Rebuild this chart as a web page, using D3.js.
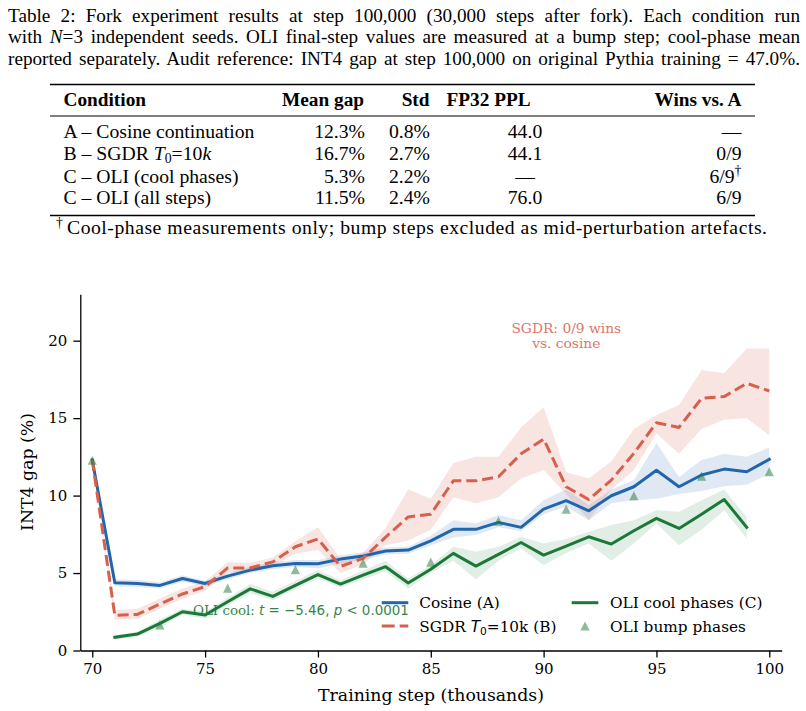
<!DOCTYPE html>
<html><head><meta charset="utf-8">
<script src="https://cdn.jsdelivr.net/npm/d3@7"></script>
<style>body{margin:0;background:#fff} svg{display:block}</style>
</head><body>
<script>
// ---------------- data ----------------
const captionLines = [
  "Table 2: Fork experiment results at step 100,000 (30,000 steps after fork). Each condition run",
  "with *N*=3 independent seeds. OLI final-step values are measured at a bump step; cool-phase mean",
  "reported separately. Audit reference: INT4 gap at step 100,000 on original Pythia training = 47.0%."
];
const tableHeaders = ["Condition", "Mean gap", "Std", "FP32 PPL", "Wins vs. A"];
const conditions = ["A – Cosine continuation", "B – SGDR *T*_0_=10*k*", "C – OLI (cool phases)", "C – OLI (all steps)"];
const meanGap = ["12.3%", "16.7%", "5.3%", "11.5%"];
const stdVals = ["0.8%", "2.7%", "2.2%", "2.4%"];
const ppl = ["44.0", "44.1", "—", "76.0"];
const wins = ["—", "0/9", "6/9^†^", "6/9"];
const footnote = "Cool-phase measurements only; bump steps excluded as mid-perturbation artefacts.";

const steps = [70,71,72,73,74,75,76,77,78,79,80,81,82,83,84,85,86,87,88,89,90,91,92,93,94,95,96,97,98,99,100];
const cosineMean = [12.3,4.37,4.33,4.2,4.65,4.33,4.8,5.19,5.47,5.62,5.6,5.9,6.1,6.42,6.48,7.08,7.82,7.82,8.27,7.95,9.13,9.67,9.02,9.99,10.57,11.63,10.57,11.33,11.71,11.54,12.34];
const cosineLo   = [12.3,4.15,4.1,4.0,4.45,4.15,4.6,5.0,5.25,5.4,5.3,5.6,5.85,6.2,6.25,6.8,7.3,7.45,7.95,7.7,8.8,9.3,8.4,9.5,9.7,9.8,10.1,10.3,10.6,10.7,11.4];
const cosineHi   = [12.3,4.6,4.55,4.4,4.85,4.5,5.0,5.4,5.7,5.85,5.85,6.15,6.35,6.65,6.7,7.4,8.4,8.2,8.75,8.4,9.7,10.4,9.4,10.4,11.0,13.4,11.2,12.3,12.7,12.5,13.1];

const sgdrMean = [12.3,2.26,2.33,3.0,3.65,4.12,5.33,5.33,5.72,6.7,7.2,5.43,5.95,7.32,8.62,8.8,10.95,10.95,11.22,12.7,13.65,10.57,9.75,11.0,12.73,14.7,14.4,16.28,16.39,17.25,16.75];
const sgdrLo   = [12.3,2.0,2.05,2.7,3.35,3.85,5.05,5.05,5.45,6.25,6.5,5.0,5.55,6.8,7.1,7.8,9.9,9.5,9.9,11.1,11.65,10.1,8.4,10.4,11.65,14.0,12.7,14.3,14.9,15.0,13.9];
const sgdrHi   = [12.3,2.6,2.7,3.35,4.0,4.45,5.7,5.65,6.0,7.05,7.95,5.9,6.3,7.9,10.4,9.8,12.1,12.5,12.5,14.4,15.7,11.5,11.1,12.2,14.3,15.2,15.85,18.1,17.9,19.5,19.5];

const oliSteps = [71,72,73,74,75,76,77,78,79,80,81,82,83,84,85,86,87,88,89,90,91,92,93,94,95,96,97,98,99];
const oliMean = [0.85,1.06,1.75,2.5,2.29,3.15,3.98,3.49,4.2,4.9,4.29,4.87,5.41,4.36,5.24,6.27,5.45,6.2,6.97,6.16,6.74,7.34,6.87,7.73,8.53,7.88,8.8,9.75,7.95];
const oliLo   = [0.7,0.9,1.5,2.3,2.05,2.9,3.7,3.25,3.95,4.65,4.05,4.6,5.1,4.0,5.0,5.8,4.6,5.8,6.6,5.5,6.3,6.9,5.8,6.9,8.2,6.8,7.8,9.06,7.24];
const oliHi   = [1.0,1.2,2.0,2.7,2.5,3.4,4.3,3.8,4.5,5.2,4.55,5.15,5.8,4.65,5.5,6.7,6.37,6.7,7.34,6.9,7.2,7.67,8.1,8.4,9.06,8.96,9.7,10.4,8.6];

const bumpSteps = [70,73,76,79,82,85,88,91,94,97,100];
const bumpVals  = [12.28,1.65,4.02,5.22,5.64,5.7,8.35,9.13,9.99,11.26,11.54];

const xTicks = [70,75,80,85,90,95,100];
const yTicks = [0,5,10,15,20];

const legendLabels = ["Cosine (A)", "SGDR *T*_0_=10k (B)", "OLI cool phases (C)", "OLI bump phases"];
const sgdrNote = ["SGDR: 0/9 wins", "vs. cosine"];

// ---------------- styles ----------------
const C_BLUE = "#2166ac", C_RED = "#d6604d", C_GREEN = "#1b7837";
const SERIF_T = "'Liberation Serif','Times New Roman',serif";
const SERIF_D = "'DejaVu Serif',serif";
const SANS_D = "'DejaVu Sans',sans-serif";

const svg = d3.select("body").append("svg").attr("width", 806).attr("height", 711);

// rich text helper: *italic*, _sub_, ^sup^
function rich(textSel, str, o) {
  o = Object.assign({subSize: "0.7em", subDy: 0.2, supSize: "0.7em", supDy: 0.38, mathFamily: null, fs: 18}, o || {});
  const parts = str.split(/(\*[^*]+\*|_[^_]+_|\^[^^]+\^)/).filter(s => s.length);
  let shift = 0;
  parts.forEach(p => {
    const t = textSel.append("tspan");
    let txt = p, dy = 0;
    if (p[0] === "*") { txt = p.slice(1, -1); t.attr("font-style", "italic"); if (o.mathFamily) t.attr("font-family", o.mathFamily); }
    else if (p[0] === "_") { txt = p.slice(1, -1); t.attr("font-size", o.subSize); dy = o.subDy * o.fs; if (o.mathFamily) t.attr("font-family", o.mathFamily); }
    else if (p[0] === "^") { txt = p.slice(1, -1); t.attr("font-size", o.supSize); dy = -o.supDy * o.fs; }
    const need = dy - shift;
    if (need) t.attr("dy", need);
    shift = dy;
    t.text(txt);
  });
  if (shift) textSel.append("tspan").attr("dy", -shift).text("");
}
function justify(t, str, x0, x1) {
  const w = t.node().getComputedTextLength();
  const spaces = (str.match(/ /g) || []).length;
  t.attr("word-spacing", (x1 - x0 - w) / spaces);
}

// ---------------- caption ----------------
const capFs = 19.2;
const capBase = [21.5, 43, 64.5];
captionLines.forEach((line, i) => {
  const t = svg.append("text").attr("x", 8).attr("y", capBase[i])
    .attr("font-family", SERIF_T).attr("font-size", capFs).attr("fill", "#000");
  rich(t, line, {fs: capFs});
  justify(t, line, 8, 800);
});

// ---------------- table ----------------
const hFs = 19.3, tFs = 19.7;
const ruleX0 = 50, ruleX1 = 755;
svg.append("line").attr("x1", ruleX0).attr("x2", ruleX1).attr("y1", 84.5).attr("y2", 84.5).attr("stroke", "#000").attr("stroke-width", 1.7);
svg.append("line").attr("x1", ruleX0).attr("x2", ruleX1).attr("y1", 116).attr("y2", 116).attr("stroke", "#000").attr("stroke-width", 1.0);
svg.append("line").attr("x1", ruleX0).attr("x2", ruleX1).attr("y1", 215.5).attr("y2", 215.5).attr("stroke", "#000").attr("stroke-width", 1.7);

const colX = [63.5, 364, 429.5, 446.5, 741.5];
const colAnchor = ["start", "end", "end", "start", "end"];
tableHeaders.forEach((h, j) => {
  svg.append("text").attr("x", colX[j]).attr("y", 106).attr("text-anchor", colAnchor[j])
    .attr("font-family", SERIF_T).attr("font-size", hFs).attr("font-weight", "bold").text(h);
});
const rowBase = [138, 160, 182.5, 204];
const valX = [63.5, 365, 430, 525, 741.5];
const valAnchor = ["start", "end", "end", "middle", "end"];
conditions.forEach((c, i) => {
  const cells = [c, meanGap[i], stdVals[i], ppl[i], wins[i]];
  cells.forEach((v, j) => {
    const t = svg.append("text").attr("x", valX[j]).attr("y", rowBase[i]).attr("text-anchor", valAnchor[j])
      .attr("font-family", SERIF_T).attr("font-size", tFs);
    rich(t, v, {fs: tFs, subDy: 0.14});
  });
});
{
  svg.append("text").attr("x", 56).attr("y", 227).attr("font-family", SERIF_T).attr("font-size", tFs * 0.7).text("†");
  svg.append("text").attr("x", 67).attr("y", 234).attr("font-family", SERIF_T).attr("font-size", tFs)
    .attr("textLength", 700).attr("lengthAdjust", "spacing").text(footnote);
}

// ---------------- chart ----------------
const x = d3.scaleLinear().domain([69.47, 100.55]).range([80.3, 781.7]);
const y = d3.scaleLinear().domain([0, 23]).range([650.5, 294.2]);

// annotations (under lines)
const note1 = svg.append("g").attr("fill", C_RED).attr("opacity", 0.85).attr("font-family", SERIF_D).attr("font-size", 13.8).attr("text-anchor", "middle");
sgdrNote.forEach((s, i) => note1.append("text").attr("x", 566.3).attr("y", 332.5 + i * 15.5).text(s));

{
  const t = svg.append("text").attr("x", 193).attr("y", 615).attr("fill", C_GREEN).attr("opacity", 0.9)
    .attr("font-family", SERIF_D).attr("font-size", 13.4);
  t.append("tspan").text("OLI cool: ");
  t.append("tspan").attr("font-family", SANS_D).attr("font-style", "italic").text("t");
  t.append("tspan").attr("font-family", SANS_D).text(" = −5.46, ");
  t.append("tspan").attr("font-family", SANS_D).attr("font-style", "italic").text("p");
  t.append("tspan").attr("font-family", SANS_D).text(" < 0.0001");
}

// bands
function band(xs, lo, hi, color, op) {
  const area = d3.area().x((d, i) => x(xs[i])).y0((d, i) => y(lo[i])).y1((d, i) => y(hi[i]));
  svg.append("path").datum(xs).attr("d", area).attr("fill", color).attr("opacity", op).attr("stroke", "none");
}
band(steps, cosineLo, cosineHi, C_BLUE, 0.14);
band(steps, sgdrLo, sgdrHi, C_RED, 0.17);
band(oliSteps, oliLo, oliHi, C_GREEN, 0.13);

function line(xs, ys, color, dash) {
  const l = d3.line().x((d, i) => x(xs[i])).y((d, i) => y(ys[i]));
  const p = svg.append("path").datum(xs).attr("d", l).attr("fill", "none").attr("stroke", color)
    .attr("stroke-width", 3).attr("stroke-linejoin", "round");
  if (dash) p.attr("stroke-dasharray", dash); else p.attr("stroke-linecap", "square");
}
line(steps, cosineMean, C_BLUE, null);
line(steps, sgdrMean, C_RED, "11,5");
line(oliSteps, oliMean, C_GREEN, null);

const tri = "M0,-4.6L4.6,4.6L-4.6,4.6Z";
svg.append("g").selectAll("path").data(bumpSteps).join("path")
  .attr("d", tri).attr("transform", (d, i) => `translate(${x(d)},${y(bumpVals[i])})`)
  .attr("fill", C_GREEN).attr("opacity", 0.5);

// axes
const xAxis = svg.append("g").attr("transform", "translate(0,650.5)")
  .call(d3.axisBottom(x).tickValues(xTicks).tickSize(7).tickPadding(6).tickSizeOuter(0));
const yAxis = svg.append("g").attr("transform", "translate(80.3,0)")
  .call(d3.axisLeft(y).tickValues(yTicks).tickSize(7).tickPadding(6).tickSizeOuter(0));
[xAxis, yAxis].forEach(a => {
  a.attr("font-family", SERIF_D);
  a.selectAll("path.domain").attr("stroke", "#000").attr("stroke-width", 1.3);
  a.selectAll(".tick line").attr("stroke", "#000").attr("stroke-width", 1.3);
  a.selectAll(".tick text").attr("font-family", SERIF_D).attr("font-size", 15).attr("fill", "#000");
});

svg.append("text").attr("x", 431).attr("y", 701).attr("text-anchor", "middle")
  .attr("font-family", SERIF_D).attr("font-size", 17.3).text("Training step (thousands)");
svg.append("text").attr("transform", "translate(33,472) rotate(-90)").attr("text-anchor", "middle")
  .attr("font-family", SERIF_D).attr("font-size", 17.3).text("INT4 gap (%)");

// legend
const lg = svg.append("g").attr("font-family", SERIF_D).attr("font-size", 15.3);
const rowsY = [602.7, 626];
const hx = [381.7, 571.7];
const tx = [419.3, 610];
function lgText(xx, yy, s) {
  const t = lg.append("text").attr("x", xx).attr("y", yy + 5.5);
  rich(t, s, {fs: 15.3, mathFamily: SANS_D});
}
lg.append("line").attr("x1", hx[0]).attr("x2", hx[0] + 26.6).attr("y1", rowsY[0]).attr("y2", rowsY[0]).attr("stroke", C_BLUE).attr("stroke-width", 3);
lgText(tx[0], rowsY[0], legendLabels[0]);
lg.append("line").attr("x1", hx[0]).attr("x2", hx[0] + 26.6).attr("y1", rowsY[1]).attr("y2", rowsY[1]).attr("stroke", C_RED).attr("stroke-width", 3).attr("stroke-dasharray", "13,5");
lgText(tx[0], rowsY[1], legendLabels[1]);
lg.append("line").attr("x1", hx[1]).attr("x2", hx[1] + 26.6).attr("y1", rowsY[0]).attr("y2", rowsY[0]).attr("stroke", C_GREEN).attr("stroke-width", 3);
lgText(tx[1], rowsY[0], legendLabels[2]);
lg.append("path").attr("d", tri).attr("transform", `translate(${hx[1] + 13.3},${rowsY[1]})`).attr("fill", C_GREEN).attr("opacity", 0.5);
lgText(tx[1], rowsY[1], legendLabels[3]);
</script>
</body></html>
